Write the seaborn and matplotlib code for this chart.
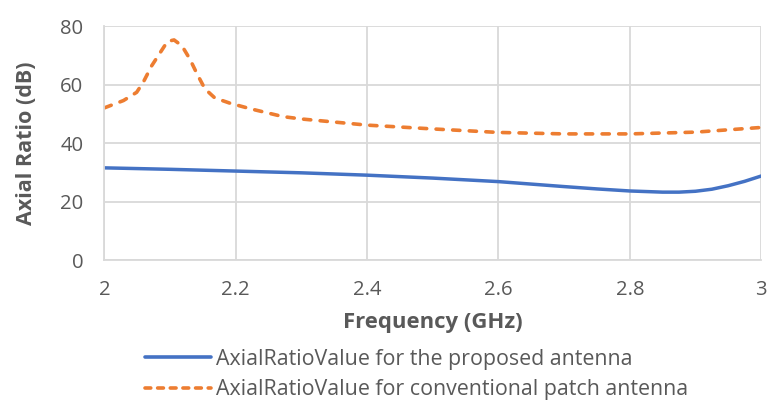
import matplotlib
matplotlib.use("Agg")
import matplotlib.pyplot as plt
import seaborn as sns
import pandas as pd

# Frequency sweep (GHz) and axial ratio (dB) for each antenna
freq_proposed = [2.0, 2.1, 2.2, 2.3, 2.4, 2.5, 2.6, 2.7, 2.75, 2.8, 2.85,
                 2.875, 2.9, 2.925, 2.95, 2.975, 3.0]
ar_proposed = [31.6, 31.1, 30.5, 29.9, 29.1, 28.1, 26.9, 25.2, 24.4, 23.7, 23.3,
               23.3, 23.6, 24.3, 25.5, 27.0, 28.8]

freq_conventional = [2.0, 2.029, 2.049, 2.059, 2.072, 2.085, 2.096, 2.106, 2.118,
                     2.130, 2.141, 2.153, 2.168, 2.191, 2.222, 2.272, 2.3, 2.4,
                     2.5, 2.6, 2.7, 2.8, 2.9, 3.0]
ar_conventional = [52.1, 54.6, 57.4, 60.8, 66.5, 71.0, 74.8, 75.3, 73.3,
                   68.8, 63.7, 58.6, 55.5, 53.7, 51.8, 49.1, 48.3, 46.2,
                   44.9, 43.7, 43.2, 43.2, 43.8, 45.4]

label_proposed = "AxialRatioValue for the proposed antenna"
label_conventional = "AxialRatioValue for conventional patch antenna"

x_ticks = [2, 2.2, 2.4, 2.6, 2.8, 3]
x_tick_labels = ["2", "2.2", "2.4", "2.6", "2.8", "3"]
y_ticks = [0, 20, 40, 60, 80]

sns.set_theme(style="white")
plt.rcParams["font.family"] = ["Open Sans", "DejaVu Sans"]

text_color = "#595959"
grid_color = "#d9d9d9"

df_p = pd.DataFrame({"freq": freq_proposed, "ar": ar_proposed})
df_c = pd.DataFrame({"freq": freq_conventional, "ar": ar_conventional})

fig = plt.figure(figsize=(7.68, 4.03), dpi=100)
ax = fig.add_axes([0.136, 0.354, 0.855, 0.581])

sns.lineplot(data=df_p, x="freq", y="ar", ax=ax, color="#4472C4",
             linewidth=2.5, label=label_proposed)
sns.lineplot(data=df_c, x="freq", y="ar", ax=ax, color="#ED7D31",
             linewidth=2.6, label=label_conventional)
ax.lines[1].set_dashes((2.0, 2.6))
ax.lines[1].set_dash_capstyle("round")

ax.set_xlim(2, 3)
ax.set_ylim(0, 80)
ax.set_xticks(x_ticks)
ax.set_xticklabels(x_tick_labels)
ax.set_yticks(y_ticks)
ax.grid(True, color=grid_color, linewidth=1.3)
ax.set_axisbelow(True)
for side in ["top", "right"]:
    ax.spines[side].set_visible(False)
for side in ["left", "bottom"]:
    ax.spines[side].set_color(grid_color)
    ax.spines[side].set_linewidth(1.3)

ax.tick_params(axis="both", length=0, labelsize=14.6, colors=text_color)
ax.tick_params(axis="x", pad=14.5)
ax.tick_params(axis="y", pad=15)
ax.set_xlabel("Frequency (GHz)", fontsize=15.9, fontweight="bold",
              color=text_color)
ax.set_ylabel("Axial Ratio (dB)", fontsize=15.5, fontweight="bold",
              color=text_color)
ax.xaxis.set_label_coords(0.5, -0.222)
ax.yaxis.set_label_coords(-0.103, 0.5)

leg = ax.legend(loc="upper left", bbox_to_anchor=(0.049, -0.34), frameon=False,
                fontsize=15.4, labelcolor=text_color, handlelength=3.1,
                handletextpad=0.23, labelspacing=0.46, borderaxespad=0)
for h in leg.get_lines():
    h.set_linewidth(2.6)
leg.get_lines()[1].set_dashes((1.6, 1.9))
leg.get_lines()[1].set_dash_capstyle("round")

fig.savefig("out.png", dpi=100)
